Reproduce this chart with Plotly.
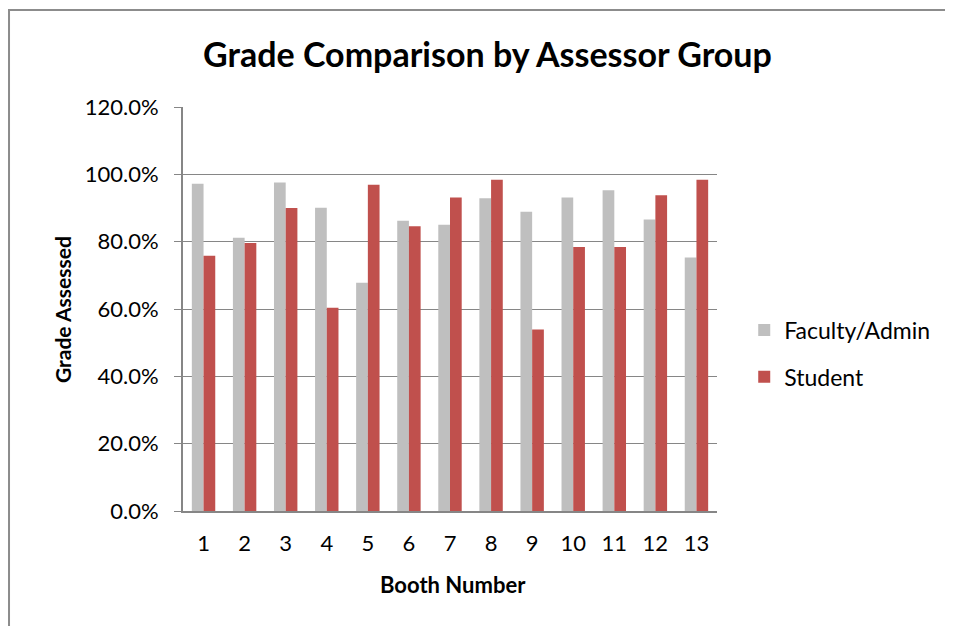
import plotly.graph_objects as go

# Datos
booths = ['1', '2', '3', '4', '5', '6', '7', '8', '9', '10', '11', '12', '13']
faculty_admin = [0.972, 0.812, 0.976, 0.901, 0.678, 0.862, 0.850, 0.929, 0.889, 0.931, 0.953, 0.866, 0.753]
student = [0.758, 0.796, 0.900, 0.604, 0.969, 0.846, 0.931, 0.984, 0.539, 0.784, 0.784, 0.938, 0.984]

font_family = 'Lato, Liberation Sans, sans-serif'

trace_faculty = go.Bar(
    x=booths,
    y=faculty_admin,
    name='Faculty/Admin',
    legendgroup='a',
    marker=dict(color='#BFBFBF', line=dict(width=0)),
)

trace_student = go.Bar(
    x=booths,
    y=student,
    name='Student',
    legendgroup='b',
    marker=dict(color='#C0504D', line=dict(width=0)),
)

fig = go.Figure(data=[trace_faculty, trace_student])

# la página deja 8px de margen, por eso 945x618
fig.update_layout(
    width=945,
    height=618,
    barmode='group',
    bargap=0.43,
    bargroupgap=0,
    paper_bgcolor='white',
    plot_bgcolor='white',
    margin=dict(l=175, r=236, t=99, b=115, autoexpand=False),
    font=dict(family=font_family, size=22, color='black'),
    title=dict(
        text='<b>Grade Comparison by Assessor Group</b>',
        font=dict(size=34, color='black'),
        x=0.5074,
        xanchor='center',
        y=0.924,
        yanchor='middle',
    ),
    legend=dict(
        x=1.051,
        xanchor='left',
        y=0.39,
        yanchor='middle',
        font=dict(size=23),
        itemwidth=30,
        traceorder='grouped',
        tracegroupgap=14,
        bgcolor='rgba(0,0,0,0)',
    ),
    showlegend=True,
)

fig.update_xaxes(
    showline=True,
    linecolor='#868686',
    linewidth=2,
    ticks='',
    showgrid=False,
    tickfont=dict(size=22),
    ticklabelstandoff=12,
)

fig.update_yaxes(
    range=[0, 1.2],
    dtick=0.2,
    tickformat='.1%',
    showgrid=True,
    gridcolor='#868686',
    gridwidth=1.3,
    showline=True,
    linecolor='#868686',
    linewidth=2,
    ticks='outside',
    ticklen=7,
    tickcolor='#868686',
    tickfont=dict(size=22),
    ticklabelstandoff=11,
    zeroline=False,
)

# Títulos de ejes
fig.add_annotation(
    text='<b>Grade Assessed</b>', textangle=-90,
    xref='paper', yref='paper', x=-0.2266, y=0.5,
    xanchor='center', yanchor='middle', showarrow=False,
    font=dict(size=21),
)
fig.add_annotation(
    text='<b>Booth Number</b>',
    xref='paper', yref='paper', x=0.505, y=-0.183,
    xanchor='center', yanchor='middle', showarrow=False,
    font=dict(size=22),
)

# Borde del área del gráfico
fig.add_shape(
    type='rect', xref='paper', yref='paper',
    x0=-0.3258, x1=2, y0=-1, y1=1.24,
    line=dict(color='#8C8C8C', width=2),
    fillcolor='rgba(0,0,0,0)', layer='below',
)

fig.write_html('out.html')
